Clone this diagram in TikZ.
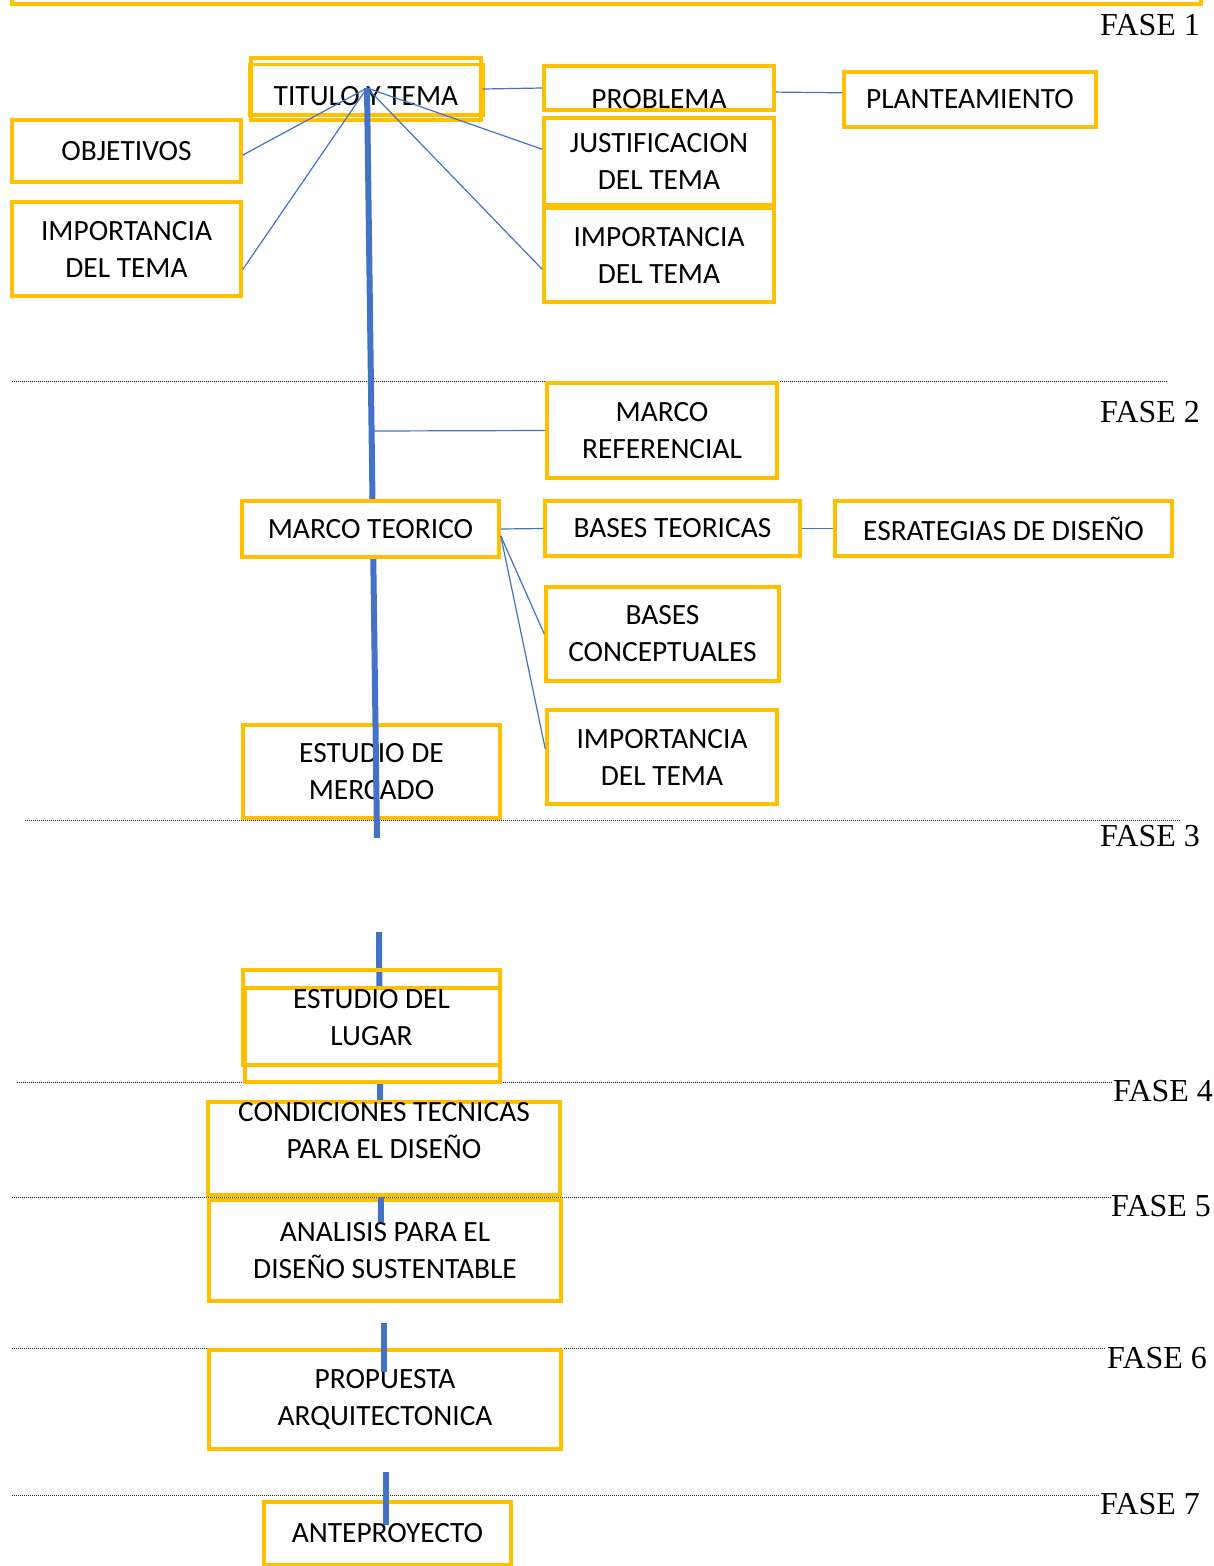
\documentclass[tikz,border=0pt]{standalone}
\usepackage{fontspec}
\setmainfont{Carlito}
\newfontfamily\fasefont{Liberation Serif}
\newcommand\cajafont{\fontsize{29.4}{37}\selectfont}
\newcommand\fasesize{\fontsize{32}{38}\selectfont}
\definecolor{amarillo}{HTML}{FFC000}
\definecolor{azul}{HTML}{4472C4}
\tikzset{
  caja/.style={draw=amarillo, line width=3.5pt, fill=white, inner sep=0pt, align=center, font=\cajafont},
  marco/.style={draw=amarillo, line width=3.5pt},
  enlace/.style={draw=azul, line width=1.2pt},
  eje/.style={draw=azul, line width=6pt},
  fase/.style={font=\fasefont\fasesize},
  division/.style={draw=black!85, line width=0.9pt, dash pattern=on 1pt off 1pt}
}

\begin{document}
\begin{tikzpicture}[x=1pt, y=-1pt]
  \useasboundingbox (0,0) rectangle (1213,1566);

  \draw[division] (12,381)  -- (1168,381);
  \draw[division] (25,820)  -- (1180,820);
  \draw[division] (17,1082) -- (1112,1082);
  \draw[division] (12,1197) -- (1112,1197);
  \draw[division] (12,1348) -- (1106,1348);
  \draw[division] (12,1495) -- (1100,1495);

  \draw[marco] (12,-20) rectangle (1201,4);

  \node[fase] (f1) at (1150,25)   {FASE 1};
  \node[fase] (f2) at (1150,412)  {FASE 2};
  \node[fase] (f3) at (1150,836)  {FASE 3};
  \node[fase] (f4) at (1163,1091) {FASE 4};
  \node[fase] (f5) at (1161,1206) {FASE 5};
  \node[fase] (f6) at (1157,1358) {FASE 6};
  \node[fase] (f7) at (1150,1504) {FASE 7};

  \node[caja, minimum width=229pt, minimum height=62pt] (obj)  at (126.5,151) {OBJETIVOS};
  \node[caja, minimum width=229pt, minimum height=94pt] (impl) at (126.5,249) {IMPORTANCIA\\DEL TEMA};
  \node[caja, minimum width=230pt, text height=42pt, text depth=2pt] (prob) at (659,88) {PROBLEMA};
  \node[caja, minimum width=230pt, minimum height=87pt] (just) at (659,161.5) {JUSTIFICACION\\DEL TEMA};
  \node[caja, minimum width=230pt, minimum height=94pt] (impr) at (659,255) {IMPORTANCIA\\DEL TEMA};
  \node[caja, minimum width=252pt, minimum height=55pt] (plan) at (970,99.5) {PLANTEAMIENTO};
  \node[caja, minimum width=230pt, text height=47pt, text depth=15pt] (tit) at (366,89) {TITULO Y TEMA};
  \draw[marco] ([yshift=-8pt]tit.north west) rectangle ([yshift=7pt]tit.south east);
  \coordinate (hub) at (367,88);

  \node[caja, minimum width=257pt, minimum height=93pt] (mer)  at (371.5,771.5) {ESTUDIO DE\\MERCADO};
  \node[caja, minimum width=230pt, minimum height=95pt] (mref) at (662,430.5) {MARCO\\REFERENCIAL};
  \coordinate (fin1) at (377,838);
  \coordinate (unionref) at (374,431);
  \draw[eje] (hub) -- (fin1);

  \node[caja, minimum width=257pt, minimum height=56pt] (mt)   at (370.5,529)  {MARCO TEORICO};
  \node[caja, minimum width=255pt, minimum height=55pt] (bt)   at (672.5,528.5) {BASES TEORICAS};
  \node[caja, minimum width=337pt, minimum height=55pt] (esr)  at (1003.5,528.5) {ESRATEGIAS DE DISEÑO};
  \node[caja, minimum width=233pt, minimum height=94pt] (bc)   at (662.5,634)  {BASES\\CONCEPTUALES};
  \node[caja, minimum width=230pt, minimum height=94pt] (imp3) at (662,757)    {IMPORTANCIA\\DEL TEMA};

  \draw[enlace] (hub) -- (obj.-2.5);
  \draw[enlace] (hub) -- (impl.-10);
  \draw[enlace] (hub) -- (just.174);
  \draw[enlace] (hub) -- (impr.187);
  \draw[enlace] (tit.east) -- (prob.west);
  \draw[enlace] (prob.-2.5) -- (plan.177.5);
  \draw[enlace] (unionref) -- (mref.west);
  \draw[enlace] (mt.east) -- (bt.west);
  \draw[enlace] (bt.east) -- (esr.west);
  \draw[enlace] (mt.-3.5) -- (bc.west);
  \draw[enlace] (mt.-3.5) -- (imp3.176);

  \node[caja, minimum width=352pt, minimum height=101pt] (anal) at (385,1250.5) {ANALISIS PARA EL\\DISEÑO SUSTENTABLE};
  \coordinate (ini2) at (379,932);
  \coordinate (fin2) at (381,1222);
  \draw[eje] (ini2) -- (fin2);
  \draw[marco, fill=white] (245,988) rectangle (500,1082);
  \node[caja, fill=none, minimum width=257pt, minimum height=95pt] (lug) at (371.5,1017.5) {ESTUDIO DEL\\LUGAR};
  \node[caja, minimum width=352pt, minimum height=93pt] (cond) at (384,1148.5) {CONDICIONES TECNICAS\\PARA EL DISEÑO\\\mbox{}};

  \node[caja, minimum width=352pt, minimum height=99pt] (prop) at (385,1399.5) {PROPUESTA\\ARQUITECTONICA};
  \coordinate (ini3) at (384,1323);
  \coordinate (fin3) at (384,1372);
  \draw[eje] (ini3) -- (fin3);

  \node[caja, minimum width=247pt, minimum height=63pt] (ante) at (387.5,1533.5) {ANTEPROYECTO};
  \coordinate (ini4) at (386,1472);
  \coordinate (fin4) at (386,1525);
  \draw[eje] (ini4) -- (fin4);
\end{tikzpicture}
\end{document}
